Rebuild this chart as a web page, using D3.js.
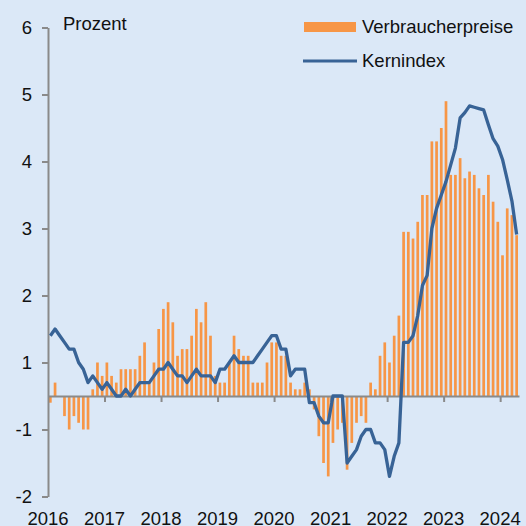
<!DOCTYPE html>
<html><head><meta charset="utf-8">
<script src="https://cdn.jsdelivr.net/npm/d3@7"></script>
<style>
html,body{margin:0;padding:0;background:#dbe8f7;}
svg{display:block;}
text{font-family:"Liberation Sans",Arial,sans-serif;fill:#111;}
</style>
</head><body>
<svg id="chart" width="526" height="526"></svg>
<script>
// Months: Jan 2016 .. Apr 2024
const months = d3.timeMonth.range(new Date(2016,0,1), new Date(2024,4,1));
const yearLabels = ["2016","2017","2018","2019","2020","2021","2022","2023","2024"];
const seriesNames = ["Verbraucherpreise","Kernindex"];
const unitLabel = "Prozent";

const verbraucherpreise = [
  -0.1, 0.2, 0.0, -0.3, -0.5, -0.3, -0.4, -0.5, -0.5, 0.1, 0.5, 0.3,
  0.5, 0.3, 0.2, 0.4, 0.4, 0.4, 0.4, 0.6, 0.8, 0.2, 0.5, 1.0,
  1.3, 1.4, 1.1, 0.6, 0.7, 0.7, 0.9, 1.3, 1.1, 1.4, 0.9, 0.3,
  0.2, 0.2, 0.5, 0.9, 0.7, 0.6, 0.6, 0.2, 0.2, 0.2, 0.5, 0.8,
  0.8, 0.6, 0.6, 0.2, 0.1, 0.1, 0.2, 0.1, -0.2, -0.6, -1.0, -1.2,
  -0.7, -0.5, -0.4, -1.1, -0.7, -0.4, -0.3, -0.4, 0.2, 0.1, 0.6, 0.8,
  0.5, 0.9, 1.2, 2.45, 2.45, 2.35, 2.6, 3.0, 3.0, 3.8, 3.8, 4.0,
  4.4, 3.3, 3.3, 3.55, 3.25, 3.35, 3.3, 3.1, 3.0, 3.3, 2.9, 2.6,
  2.1, 2.8, 2.7, 2.4
];
const kernindex = [
  0.9, 1.0, 0.9, 0.8, 0.7, 0.7, 0.5, 0.4, 0.2, 0.3, 0.2, 0.1,
  0.2, 0.1, 0.0, 0.0, 0.1, 0.0, 0.1, 0.2, 0.2, 0.2, 0.3, 0.4,
  0.4, 0.5, 0.4, 0.3, 0.3, 0.2, 0.3, 0.4, 0.3, 0.3, 0.3, 0.2,
  0.4, 0.4, 0.5, 0.6, 0.5, 0.5, 0.5, 0.5, 0.6, 0.7, 0.8, 0.9,
  0.9, 0.7, 0.7, 0.3, 0.4, 0.4, 0.4, -0.1, -0.1, -0.3, -0.4, -0.4,
  0.0, 0.0, 0.0, -1.0, -0.9, -0.8, -0.6, -0.5, -0.5, -0.7, -0.7, -0.8,
  -1.2, -0.9, -0.7, 0.8, 0.8, 0.9, 1.2, 1.65, 1.8, 2.5, 2.8, 3.0,
  3.2, 3.45, 3.7, 4.15, 4.23, 4.33, 4.31, 4.29, 4.27, 4.05, 3.84, 3.73,
  3.53, 3.23, 2.91, 2.41
];
const yTickValues = [-1.5, -0.5, 0.5, 1.5, 2.5, 3.5, 4.5, 5.5];
const yTickLabels = ["-2", "-1", "1", "2", "3", "4", "5", "6"];

const svg = d3.select("#chart");
const FS = "18.5px";
const orange = "#f79646", blue = "#386396", axisCol = "#8a8a8a";

const x = d3.scaleLinear().domain([0, months.length]).range([48, 519]);
const y = d3.scaleLinear().domain([-1.5, 5.5]).range([496.5, 27.5]);

// bars
svg.append("g").selectAll("rect").data(verbraucherpreise).join("rect")
  .attr("x", (d,i) => x(i + 0.5) - 1.35)
  .attr("width", 2.7)
  .attr("y", d => Math.min(y(d), y(0)))
  .attr("height", d => Math.abs(y(d) - y(0)))
  .attr("fill", orange);

// y axis
const yAxis = svg.append("g").attr("transform", "translate(48,0)")
  .call(d3.axisLeft(y).tickValues(yTickValues).tickFormat((d,i) => yTickLabels[i])
    .tickSize(6).tickSizeOuter(0).tickPadding(10));
yAxis.select(".domain").attr("stroke", axisCol).attr("stroke-width", 2);
yAxis.selectAll(".tick line").attr("stroke", axisCol).attr("stroke-width", 2);
yAxis.selectAll(".tick text").style("font-size", FS).attr("fill", "#111");

// x axis at zero
const yearIdx = yearLabels.map((_, k) => k * 12);
const xAxis = svg.append("g").attr("transform", `translate(0,${y(0)})`)
  .call(d3.axisBottom(x).tickValues(yearIdx.slice(1)).tickFormat("").tickSize(6).tickSizeOuter(0));
xAxis.select(".domain").attr("stroke", axisCol).attr("stroke-width", 2);
xAxis.selectAll(".tick line").attr("stroke", axisCol).attr("stroke-width", 2);

svg.append("g").selectAll("text").data(yearLabels).join("text")
  .attr("x", (d,k) => x(yearIdx[k]))
  .attr("y", 525)
  .attr("text-anchor", "middle")
  .style("font-size", FS)
  .text(d => d);

// line
svg.append("path").datum(kernindex)
  .attr("d", d3.line().x((d,i) => x(i + 0.5)).y(d => y(d)))
  .attr("fill", "none").attr("stroke", blue).attr("stroke-width", 3.3)
  .attr("stroke-linejoin", "round");

// unit label
svg.append("text").attr("x", 63).attr("y", 29.5).style("font-size", FS).text(unitLabel);

// legend
svg.append("rect").attr("x", 304).attr("y", 22).attr("width", 52).attr("height", 10).attr("fill", orange);
svg.append("text").attr("x", 362).attr("y", 33).style("font-size", FS).text(seriesNames[0]);
svg.append("line").attr("x1", 303).attr("x2", 357).attr("y1", 61).attr("y2", 61)
  .attr("stroke", blue).attr("stroke-width", 3);
svg.append("text").attr("x", 362).attr("y", 67).style("font-size", FS).text(seriesNames[1]);
</script>
</body></html>
